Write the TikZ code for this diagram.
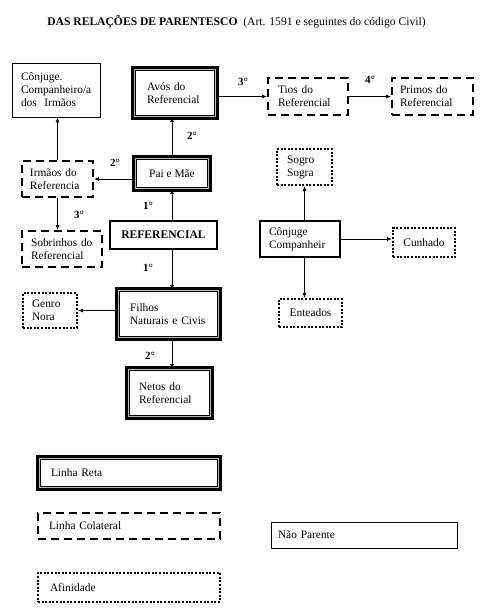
\documentclass[tikz,border=0pt]{standalone}
\usepackage{fontspec}
\setmainfont{Liberation Serif}
\usetikzlibrary{arrows.meta}
\begin{document}
\begin{tikzpicture}[x=1pt,y=-1pt,
  every node/.style={font=\fontsize{11.4}{13}\selectfont},
  bx/.style n args={4}{minimum width=#1pt, minimum height=#2pt, text width=#3pt, inner xsep=#4pt, inner ysep=0pt, align=left},
  cb/.style 2 args={minimum width=#1pt, minimum height=#2pt, inner sep=0pt, align=center},
  reta/.style={preaction={draw, line width=7pt}, fill=white, draw, line width=0.9pt, double=gray!55, double distance=1.6pt},
  colat/.style={draw, line width=2pt, dash pattern=on 8pt off 5pt},
  afim/.style={draw, line width=2pt, dash pattern=on 2pt off 1.6pt},
  naop/.style={draw, line width=0.7pt},
  arr/.style={draw, line width=0.8pt, -{Latex[length=5pt,width=4pt]}},
  lbl/.style={font=\fontsize{11}{13}\selectfont\bfseries, inner sep=0pt}
]
\useasboundingbox[fill=white] (0,0) rectangle (482,614);

\node[inner sep=0pt, font=\fontsize{11.6}{14}\selectfont] (title) at (236.5,22) {\textbf{DAS RELAÇÕES DE PARENTESCO}\ \ (Art. 1591 e seguintes do código Civil)};

\node[naop, bx={88}{54}{70}{9}] (conjI) at (56,90) {Cônjuge.\\Companheiro/a\\dos\ \ Irmãos};
\node[reta, bx={81}{47}{56}{12.5}] (avos) at (175,93) {Avós do\\Referencial};
\node[colat, bx={80}{37}{60}{10}] (tios) at (308,96.5) {Tios do\\Referencial};
\node[colat, bx={81}{37}{65}{8}] (primos) at (432.5,96.5) {Primos do\\Referencial};
\node[colat, bx={71}{36}{55}{8}] (irmaos) at (57.5,179) {Irmãos do\\Referencia};
\node[reta, cb={73}{30}] (pai) at (172,173.5) {Pai e Mãe};
\node[afim, bx={55}{36}{35}{10}] (sogro) at (304.5,167) {Sogro\\Sogra};
\node[colat, bx={80}{36}{62}{9}] (sobrinhos) at (62,249) {Sobrinhos do\\Referencial};
\node[draw, line width=2.4pt, cb={107}{28}, font=\fontsize{11.6}{13}\selectfont\bfseries] (ref) at (163.5,235) {REFERENCIAL};
\node[draw, line width=1.2pt, bx={80}{36}{62}{9}] (conjC) at (300,239) {Cônjuge\\Companheir};
\node[afim, cb={62}{29}] (cunhado) at (424,242.5) {Cunhado};
\node[afim, bx={54}{35}{36}{9}] (genro) at (50,310.5) {Genro\\Nora};
\node[reta, bx={100}{47}{77}{11.5}] (filhos) at (168.5,314) {Filhos\\Naturais e Civis};
\node[afim, cb={63}{28}] (enteados) at (310.5,313) {Enteados};
\node[reta, bx={82}{47}{61}{10.5}] (netos) at (169.5,393) {Netos do\\Referencial};

\node[reta, bx={179}{29}{156}{11.5}] (lreta) at (129,473) {Linha Reta};
\node[colat, bx={182}{26}{160}{11}] (lcol) at (129,526) {Linha Colateral};
\node[naop, bx={186}{26}{172}{7}] (lnaop) at (364,535) {Não Parente};
\node[afim, bx={182}{29}{158}{12}] (lafin) at (129,587.5) {Afinidade};

% connectors
\draw[arr] (avos.east |- tios.west) -- (tios.west);
\draw[arr] (tios.east) -- (primos.west);
\draw[arr] (pai.north) -- (pai.north |- avos.south);
\draw[arr] (irmaos.north) -- (irmaos.north |- conjI.south);
\draw[arr] (pai.west |- irmaos.east) -- (irmaos.east);
\draw[arr] (irmaos.south) -- (irmaos.south |- sobrinhos.north);
\draw[arr] (ref.north -| pai.south) -- (pai.south);
\draw[arr] (ref.south -| pai.south) -- (pai.south |- filhos.north);
\draw[arr] (pai.south |- filhos.south) -- (pai.south |- netos.north);
\draw[arr] (filhos.west |- genro.east) -- (genro.east);
\draw[line width=0.6pt, double, double distance=1.4pt] (ref.east |- conjC.west) -- (conjC.west);
\draw[arr] (conjC.east) -- (conjC.east -| cunhado.west);
\draw[arr] (conjC.north -| sogro.south) -- (sogro.south);
\draw[arr] (conjC.south -| sogro.south) -- (sogro.south |- enteados.north);

% degree labels
\node[lbl] (g1) at (243,82) {3°};
\node[lbl] (g2) at (370,80) {4°};
\node[lbl] (g3) at (192,136) {2°};
\node[lbl] (g4) at (115,163) {2°};
\node[lbl] (g5) at (148,206) {1°};
\node[lbl] (g6) at (79,215) {3°};
\node[lbl] (g7) at (148,268) {1°};
\node[lbl] (g8) at (150,356) {2°};
\end{tikzpicture}
\end{document}
